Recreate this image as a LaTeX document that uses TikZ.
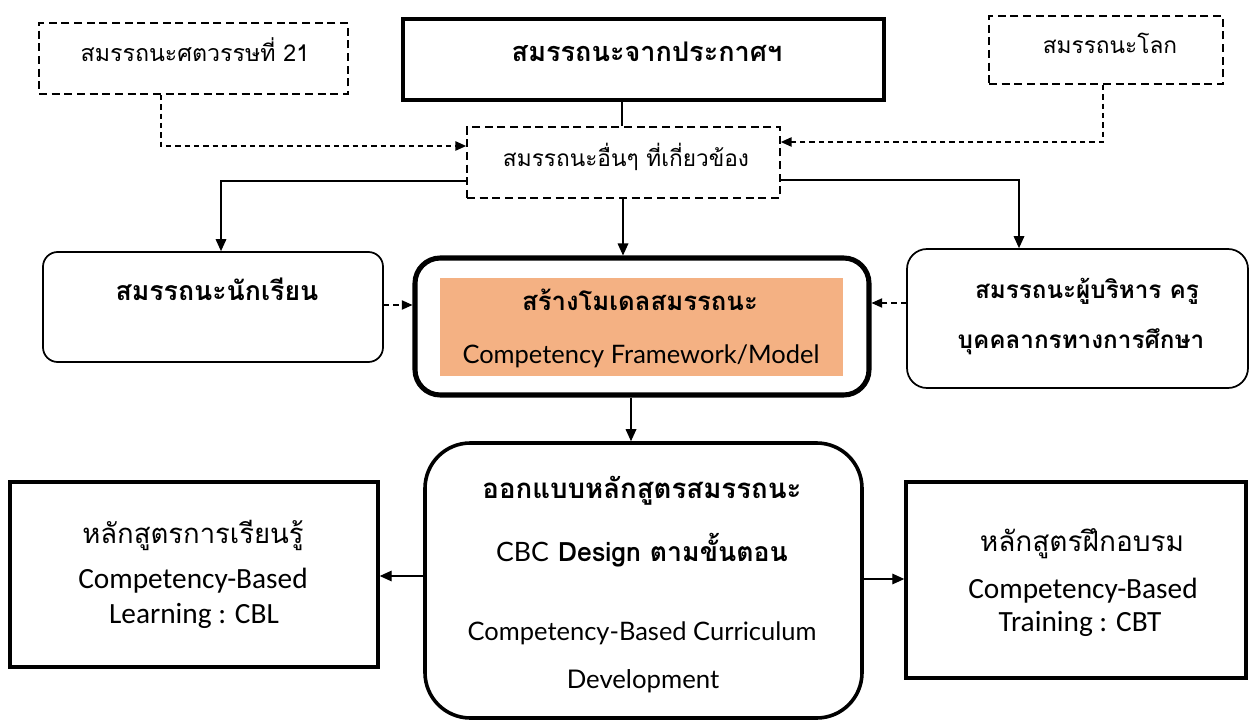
\documentclass[tikz,border=0pt]{standalone}
\usepackage{fontspec}
\setmainfont{Carlito}
\newfontfamily\thaifont[Script=Thai]{Loma}
\newfontfamily\latfont{Lato}
\usetikzlibrary{arrows.meta,fit}
\definecolor{orangefill}{HTML}{F4B183}
\begin{document}
\begin{tikzpicture}[x=0.75pt,y=-0.75pt,
  box/.style={draw,inner sep=0pt,line width=1.3pt},
  dbox/.style={box,dash pattern=on 6pt off 3.5pt},
  thickbox/.style={draw,inner sep=0pt,line width=2.8pt},
  rbox/.style={draw,inner sep=0pt,line width=1.3pt,rounded corners=11pt},
  txt/.style={inner sep=0pt,text height=0.6em,text depth=0.1em},
  arr/.style={line width=0.9pt,-{Triangle[length=9pt,width=8pt]}},
  darr/.style={line width=0.9pt,dash pattern=on 4pt off 3pt,-{Triangle[length=8pt,width=7pt]}},
  thin/.style={line width=0.9pt}
]
\useasboundingbox (0,0) rectangle (1249,720);
% boxes
\node[dbox,fit={(39,23) (348,94)}] (A) {};
\node[thickbox,fit={(403,19) (884,100)}] (B) {};
\node[dbox,fit={(989,16) (1223,84)}] (C) {};
\node[dbox,fit={(467,127) (780,198)}] (D) {};
\node[rbox,fit={(43,252) (383,362)}] (S) {};
\node[rbox,rounded corners=15pt,fit={(907,249) (1248,388)}] (M) {};
\node[draw,line width=3.8pt,rounded corners=19pt,inner sep=0pt,fit={(415,258) (869,395)}] (Model) {};
\node[fill=orangefill,inner sep=0pt,fit={(440,278) (843,376)}] (Fill) {};
\node[draw,line width=2.7pt,rounded corners=34pt,inner sep=0pt,fit={(425,443) (862,718)}] (CBC) {};
\node[thickbox,line width=2.6pt,fit={(10,482) (378,667)}] (CBL) {};
\node[thickbox,line width=2.6pt,fit={(906,482) (1246,678)}] (CBT) {};
% texts
\node[txt,font=\thaifont\fontsize{17.4}{20}\selectfont] (At) at (195,58) {สมรรถนะศตวรรษที่ 21};
\node[txt,font=\thaifont\bfseries\fontsize{20.3}{24}\selectfont] (Bt) at (647,58) {สมรรถนะจากประกาศฯ};
\node[txt,font=\thaifont\fontsize{17}{20}\selectfont] (Ct) at (1110,50) {สมรรถนะโลก};
\node[txt,font=\thaifont\fontsize{17}{20}\selectfont] (Dt) at (626,163) {สมรรถนะอื่นๆ ที่เกี่ยวข้อง};
\node[txt,font=\thaifont\bfseries\fontsize{20}{24}\selectfont] (St) at (217,297) {สมรรถนะนักเรียน};
\node[txt,font=\thaifont\bfseries\fontsize{18.2}{22}\selectfont] (Mt1) at (1087,295) {สมรรถนะผู้บริหาร ครู};
\node[txt,font=\thaifont\bfseries\fontsize{18.2}{22}\selectfont] (Mt2) at (1081,345) {บุคคลากรทางการศึกษา};
\node[txt,font=\thaifont\bfseries\fontsize{19.3}{24}\selectfont] (Ft1) at (640,307) {สร้างโมเดลสมรรถนะ};
\node[txt,font=\latfont\fontsize{19.1}{21}\selectfont] (Ft2) at (641,360) {Competency Framework/Model};
\node[txt,font=\thaifont\bfseries\fontsize{20.7}{24}\selectfont] (Ct1) at (642,495) {ออกแบบหลักสูตรสมรรถนะ};
\node[txt,font=\thaifont\fontsize{20}{24}\selectfont] (Ct2) at (642,558) {{\latfont CBC} {\bfseries Design ตามขั้นตอน}};
\node[txt,font=\latfont\fontsize{19.1}{21}\selectfont] (Ct3) at (642,637) {Competency-Based Curriculum};
\node[txt,font=\latfont\fontsize{19.3}{21}\selectfont] (Ct4) at (643,685) {Development};
\node[txt,font=\thaifont\fontsize{20.6}{26}\selectfont] (Lt1) at (193,540) {หลักสูตรการเรียนรู้};
\node[txt,font=\fontsize{22}{24}\selectfont] (Lt2) at (193,585) {Competency-Based};
\node[txt,font=\fontsize{22}{24}\selectfont] (Lt3) at (194,620) {Learning : CBL};
\node[txt,font=\thaifont\fontsize{21}{26}\selectfont] (Rt1) at (1082,548) {หลักสูตรฝึกอบรม};
\node[txt,font=\fontsize{22}{24}\selectfont] (Rt2) at (1083,595) {Competency-Based};
\node[txt,font=\fontsize{22}{24}\selectfont] (Rt3) at (1080,628) {Training : CBT};
% connectors
\draw[thin] (B.south -| 622,0) -- (D.north -| 622,0);
\draw[darr] (A.south -| 161,0) |- (D.west |- 0,146);
\draw[darr] (C.south -| 1103,0) |- (D.east |- 0,142);
\draw[arr] (D.west |- 0,181) -| (S.north -| 221,0);
\draw[arr] (D.east |- 0,180) -| (M.north -| 1019,0);
\draw[arr] (D.south -| 623,0) -- (Model.north -| 623,0);
\draw[darr] (S.east |- 0,305) -- (Model.west |- 0,305);
\draw[darr] (M.west |- 0,303) -- (Model.east |- 0,303);
\draw[arr] (Model.south -| 631,0) -- (CBC.north -| 631,0);
\draw[arr] (CBC.west |- 0,576) -- (CBL.east |- 0,576);
\draw[arr] (CBC.east |- 0,579) -- (CBT.west |- 0,579);
\end{tikzpicture}
\end{document}
